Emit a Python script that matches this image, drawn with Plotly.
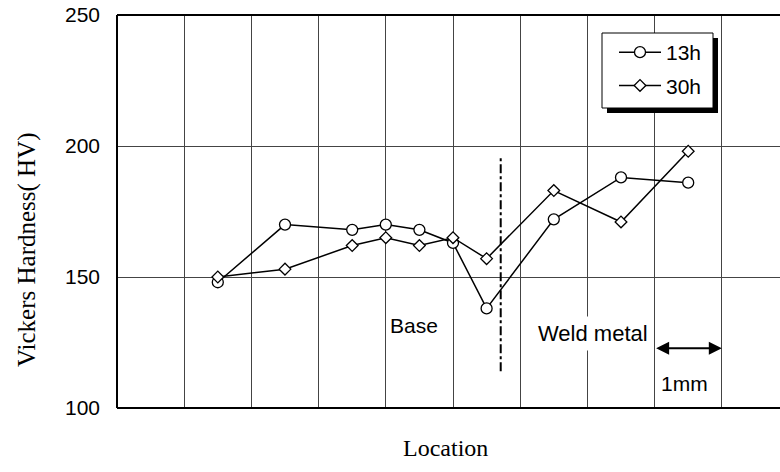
import plotly.graph_objects as go

# ---- data ----
loc = [1.5, 2.5, 3.5, 4.0, 4.5, 5.0, 5.5, 6.5, 7.5, 8.5]
hv_13h = [148, 170, 168, 170, 168, 163, 138, 172, 188, 186]
hv_30h = [150, 153, 162, 165, 162, 165, 157, 183, 171, 198]
series_names = ["13h", "30h"]
y_ticks = [100, 150, 200, 250]
boundary_x = 5.71
boundary_y = [114, 196]
scale_bar = [8.0, 9.0]
scale_bar_y = 122.8

W, H = 794, 472
L, R, T, B = 117, 0, 15, 64
pw = W - L - R
ph = H - T - B
x_max = pw / 67.2

def px_x(px):
    return (px - L) / pw

def px_y(py):
    return (H - B - py) / ph

fig = go.Figure()

marker_line = dict(color="black", width=1.3)
fig.add_trace(go.Scatter(
    x=loc, y=hv_13h, name=series_names[0], mode="lines+markers", legendgroup="a",
    line=dict(color="black", width=1.5),
    marker=dict(symbol="circle", size=11, color="white", line=marker_line),
))
fig.add_trace(go.Scatter(
    x=loc, y=hv_30h, name=series_names[1], mode="lines+markers", legendgroup="b",
    line=dict(color="black", width=1.5),
    marker=dict(symbol="diamond", size=9, color="white", line=marker_line),
))

shapes = []
# plot frame: left, top, bottom
frame = dict(color="black", width=2)
shapes.append(dict(type="line", xref="paper", yref="paper", x0=0, x1=0, y0=0, y1=1, line=frame, layer="above"))
shapes.append(dict(type="line", xref="paper", yref="paper", x0=0, x1=1, y0=1, y1=1, line=frame, layer="above"))
shapes.append(dict(type="line", xref="paper", yref="paper", x0=0, x1=1, y0=0, y1=0, line=frame, layer="above"))
# boundary dash-dot line
shapes.append(dict(type="line", xref="x", yref="y", x0=boundary_x, x1=boundary_x,
                   y0=boundary_y[0], y1=boundary_y[1],
                   line=dict(color="black", width=2, dash="dashdot")))
# legend shadow and box
lx0, lx1, ly0, ly1 = 602, 713, 33, 108
shapes.append(dict(type="rect", xref="paper", yref="paper",
                   x0=px_x(lx0 + 5), x1=px_x(lx1 + 5), y0=px_y(ly1 + 5), y1=px_y(ly0 + 5),
                   fillcolor="black", line=dict(width=0), layer="above"))
shapes.append(dict(type="rect", xref="paper", yref="paper",
                   x0=px_x(lx0), x1=px_x(lx1), y0=px_y(ly1), y1=px_y(ly0),
                   fillcolor="white", line=dict(color="black", width=1), layer="above"))

annotations = []
sans = "Liberation Sans"
serif = "Liberation Serif"
annotations.append(dict(x=4.42, y=131.5, xref="x", yref="y", text="Base", showarrow=False,
                        font=dict(family=sans, size=21, color="black"), bgcolor="white"))
annotations.append(dict(x=7.09, y=128.5, xref="x", yref="y", text="Weld metal", showarrow=False,
                        font=dict(family=sans, size=22, color="black"), bgcolor="white",
                        borderpad=4))
annotations.append(dict(x=scale_bar[1], y=scale_bar_y, ax=scale_bar[0], ay=scale_bar_y,
                        xref="x", yref="y", axref="x", ayref="y", text="",
                        showarrow=True, arrowhead=2, arrowside="end+start", arrowsize=1.3,
                        arrowwidth=2, arrowcolor="black", standoff=0, startstandoff=0))
annotations.append(dict(x=8.45, y=109.4, xref="x", yref="y", text="1mm", showarrow=False,
                        font=dict(family=sans, size=21, color="black")))
annotations.append(dict(x=px_x(27), y=px_y(250), xref="paper", yref="paper",
                        xanchor="center", yanchor="middle",
                        text="Vickers Hardness( HV)", textangle=-90, showarrow=False,
                        font=dict(family=serif, size=25, color="black")))
annotations.append(dict(x=px_x(445), y=px_y(448), xref="paper", yref="paper",
                        xanchor="center", yanchor="middle",
                        text="Location", showarrow=False,
                        font=dict(family=serif, size=24, color="black")))

fig.update_layout(
    width=W, height=H,
    margin=dict(l=L, r=R, t=T, b=B, pad=0),
    paper_bgcolor="white", plot_bgcolor="white",
    showlegend=True,
    legend=dict(x=px_x(lx0 + 12), y=px_y(ly0 - 1), xanchor="left", yanchor="top",
                bgcolor="rgba(0,0,0,0)", borderwidth=0,
                font=dict(family=sans, size=21, color="black"),
                traceorder="grouped", itemwidth=42, tracegroupgap=3),
    shapes=shapes,
    annotations=annotations,
    xaxis=dict(range=[0, x_max], tick0=0, dtick=1, showticklabels=False,
               showgrid=True, gridcolor="#444", gridwidth=1,
               showline=False, zeroline=False, ticks=""),
    yaxis=dict(range=[100, 250], tickvals=y_ticks, showgrid=True,
               gridcolor="#444", gridwidth=1,
               showline=False, zeroline=False, ticks="",
               tickfont=dict(family=sans, size=21, color="black"),
               ticklabelstandoff=16),
)

fig.write_html("out.html", config={"displayModeBar": False},
               post_script="document.body.style.margin='0';document.body.style.overflow='hidden';")
